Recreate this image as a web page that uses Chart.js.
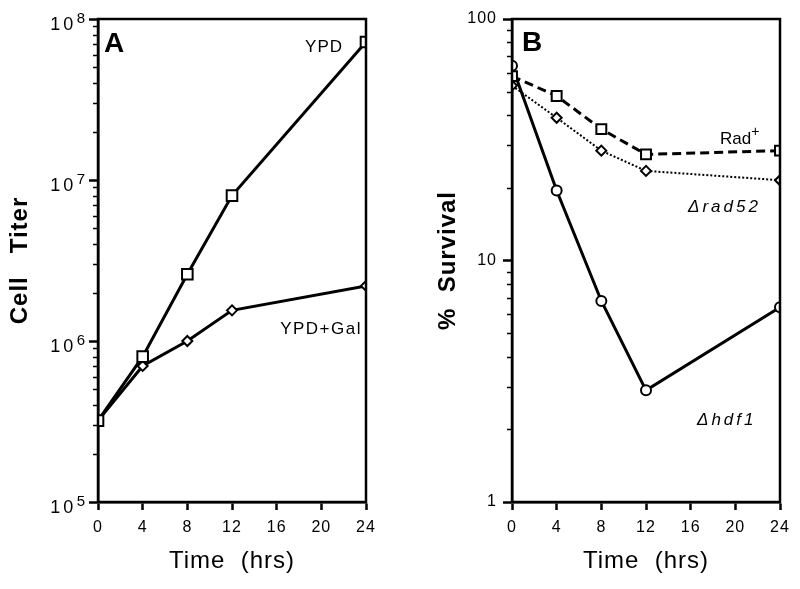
<!DOCTYPE html>
<html>
<head>
<meta charset="utf-8">
<script src="https://cdn.jsdelivr.net/npm/chart.js@4/dist/chart.umd.min.js"></script>
<style>
  html, body { margin: 0; padding: 0; background: #fff; }
  #wrap { position: relative; width: 800px; height: 589px; }
  .panel { position: absolute; top: 0; width: 400px; height: 589px; }
</style>
</head>
<body>
<div id="wrap">
  <div class="panel" style="left:0"><canvas id="chartA"></canvas></div>
  <div class="panel" style="left:400px"><canvas id="chartB"></canvas></div>
</div>
<script>
// sampling times (hrs)
const hours = [0, 4, 8, 12, 24];
const hourTicks = [0, 4, 8, 12, 16, 20, 24];

// panel A: cell titer
const ypd = [3.2e5, 8.0e5, 2.6e6, 8.0e6, 7.2e7];
const ypdGal = [3.2e5, 7.0e5, 1.0e6, 1.55e6, 2.2e6];
const titerTicks = [1e5, 1e6, 1e7, 1e8];
const titerExponents = ['5', '6', '7', '8'];

// panel B: % survival
const radPlus = [58, 48, 35, 27.5, 28.5];
const rad52 = [53, 39, 28.5, 23.5, 21.5];
const hdf1 = [64, 19.5, 6.8, 2.9, 6.4];
const survivalTicks = [1, 10, 100];
const survivalLabels = ['1', '10', '100'];

const FONT = '"Liberation Sans", Arial, Helvetica, sans-serif';
Chart.defaults.font.family = FONT;
Chart.defaults.color = '#000';

const pts = (ys) => hours.map((h, i) => ({ x: h, y: ys[i] }));

function series(label, ys, style, radius, dash, width) {
  return {
    label: label,
    data: pts(ys),
    borderColor: '#000',
    borderWidth: width,
    borderDash: dash,
    pointStyle: style,
    pointRadius: radius,
    pointBorderWidth: 2,
    pointBackgroundColor: '#fff',
    pointBorderColor: '#000',
    fill: false,
    tension: 0
  };
}

// frame, minor log ticks, power-of-ten labels and in-plot labels
const decor = {
  id: 'decor',
  beforeDraw(chart) {
    chart.ctx.letterSpacing = '1px';
  },
  afterDraw(chart, args, opts) {
    const ctx = chart.ctx;
    const a = chart.chartArea;
    const y = chart.scales.y;
    ctx.save();
    ctx.strokeStyle = '#000';
    ctx.lineWidth = 2.5;
    ctx.strokeRect(a.left, a.top, a.right - a.left, a.bottom - a.top);
    ctx.lineWidth = 1.5;
    for (let e = Math.log10(y.min); e < Math.log10(y.max); e++) {
      for (let k = 2; k <= 9; k++) {
        const py = Math.round(y.getPixelForValue(k * Math.pow(10, e))) + 0.5;
        ctx.beginPath();
        ctx.moveTo(a.left - 5, py);
        ctx.lineTo(a.left, py);
        ctx.stroke();
      }
    }
    ctx.fillStyle = '#000';
    ctx.textBaseline = 'middle';
    if (opts.powers) {
      // 10^n tick labels with a real superscript
      ctx.letterSpacing = '0px';
      y.ticks.forEach((t, i) => {
        const py = y.getPixelForValue(t.value);
        const right = a.left - 13;
        ctx.textAlign = 'right';
        ctx.font = '15px ' + FONT;
        ctx.fillText(opts.powers[i], right, py);
        const ew = ctx.measureText(opts.powers[i]).width;
        ctx.letterSpacing = '3px';
        ctx.font = '18px ' + FONT;
        ctx.fillText('10', right - ew - 0.5, py + 6);
        ctx.letterSpacing = '0px';
      });
    }
    (opts.labels || []).forEach(l => {
      ctx.font = l.font;
      ctx.letterSpacing = l.spacing || '0px';
      ctx.textAlign = l.align || 'left';
      ctx.fillText(l.text, l.x, l.y);
      if (l.sup) {
        const w = ctx.measureText(l.text).width;
        ctx.font = l.supFont;
        ctx.fillText(l.sup, l.x + w, l.y - 7);
      }
    });
    ctx.restore();
  }
};

function options(yMin, yMax, yTicks, yLabels, yTitle, yWidth, titlePad, rightPad, decorOpts) {
  return {
    responsive: true,
    maintainAspectRatio: false,
    animation: false,
    layout: { padding: { top: 19, right: rightPad, left: 0, bottom: 0 } },
    plugins: { legend: { display: false }, tooltip: { enabled: false }, decor: decorOpts },
    scales: {
      x: {
        type: 'linear',
        min: 0,
        max: 24,
        afterBuildTicks: s => { s.ticks = hourTicks.map(v => ({ value: v })); },
        afterFit: s => { s.height = 87; },
        grid: { drawOnChartArea: false, tickLength: 8, tickWidth: 2.5, tickColor: '#000' },
        border: { color: '#000', width: 2.5 },
        ticks: { color: '#000', font: { size: 16 }, padding: 8, maxRotation: 0 },
        title: { display: true, text: 'Time  (hrs)', color: '#000', font: { size: 24 }, padding: { top: 0, bottom: 13 } }
      },
      y: {
        type: 'logarithmic',
        min: yMin,
        max: yMax,
        afterBuildTicks: s => { s.ticks = yTicks.map(v => ({ value: v })); },
        afterFit: s => { s.width = yWidth; },
        grid: { drawOnChartArea: false, tickLength: 9, tickWidth: 2.5, tickColor: '#000' },
        border: { color: '#000', width: 2.5 },
        ticks: { display: !!yLabels, color: '#000', font: { size: 16 }, padding: 6, callback: (v, i) => yLabels ? yLabels[i] : '' },
        title: { display: true, text: yTitle, color: '#000', font: { size: 24, weight: 'bold' }, padding: { top: titlePad, bottom: 0 } }
      }
    }
  };
}

new Chart(document.getElementById('chartA'), {
  type: 'line',
  data: {
    datasets: [
      series('YPD', ypd, 'rect', 7.5, [], 3),
      series('YPD+Gal', ypdGal, 'rectRot', 5, [], 3)
    ]
  },
  options: options(1e5, 1e8, titerTicks, null, 'Cell   Titer', 98, 6, 34, {
    powers: titerExponents,
    labels: [
      { text: 'A', x: 104, y: 44, font: 'bold 28px ' + FONT },
      { text: 'YPD', x: 343, y: 47, align: 'right', font: '17px ' + FONT, spacing: '1px' },
      { text: 'YPD+Gal', x: 362, y: 329, align: 'right', font: '17px ' + FONT, spacing: '1.5px' }
    ]
  }),
  plugins: [decor]
});

new Chart(document.getElementById('chartB'), {
  type: 'line',
  data: {
    datasets: [
      series('Rad+', radPlus, 'rect', 7, [9, 5], 3),
      series('Δrad52', rad52, 'rectRot', 5, [2, 2], 2),
      series('Δhdf1', hdf1, 'circle', 5, [], 3)
    ]
  },
  options: options(1, 100, survivalTicks, survivalLabels, '%  Survival', 112, 34, 20, {
    labels: [
      { text: 'B', x: 122, y: 43, font: 'bold 28px ' + FONT },
      { text: 'Rad', x: 320, y: 139, font: '17px ' + FONT, sup: '+', supFont: '14px ' + FONT },
      { text: 'Δrad52', x: 288, y: 207, font: 'italic 17px ' + FONT, spacing: '3px' },
      { text: 'Δhdf1', x: 297, y: 420, font: 'italic 17px ' + FONT, spacing: '3px' }
    ]
  }),
  plugins: [decor]
});
</script>
</body>
</html>
